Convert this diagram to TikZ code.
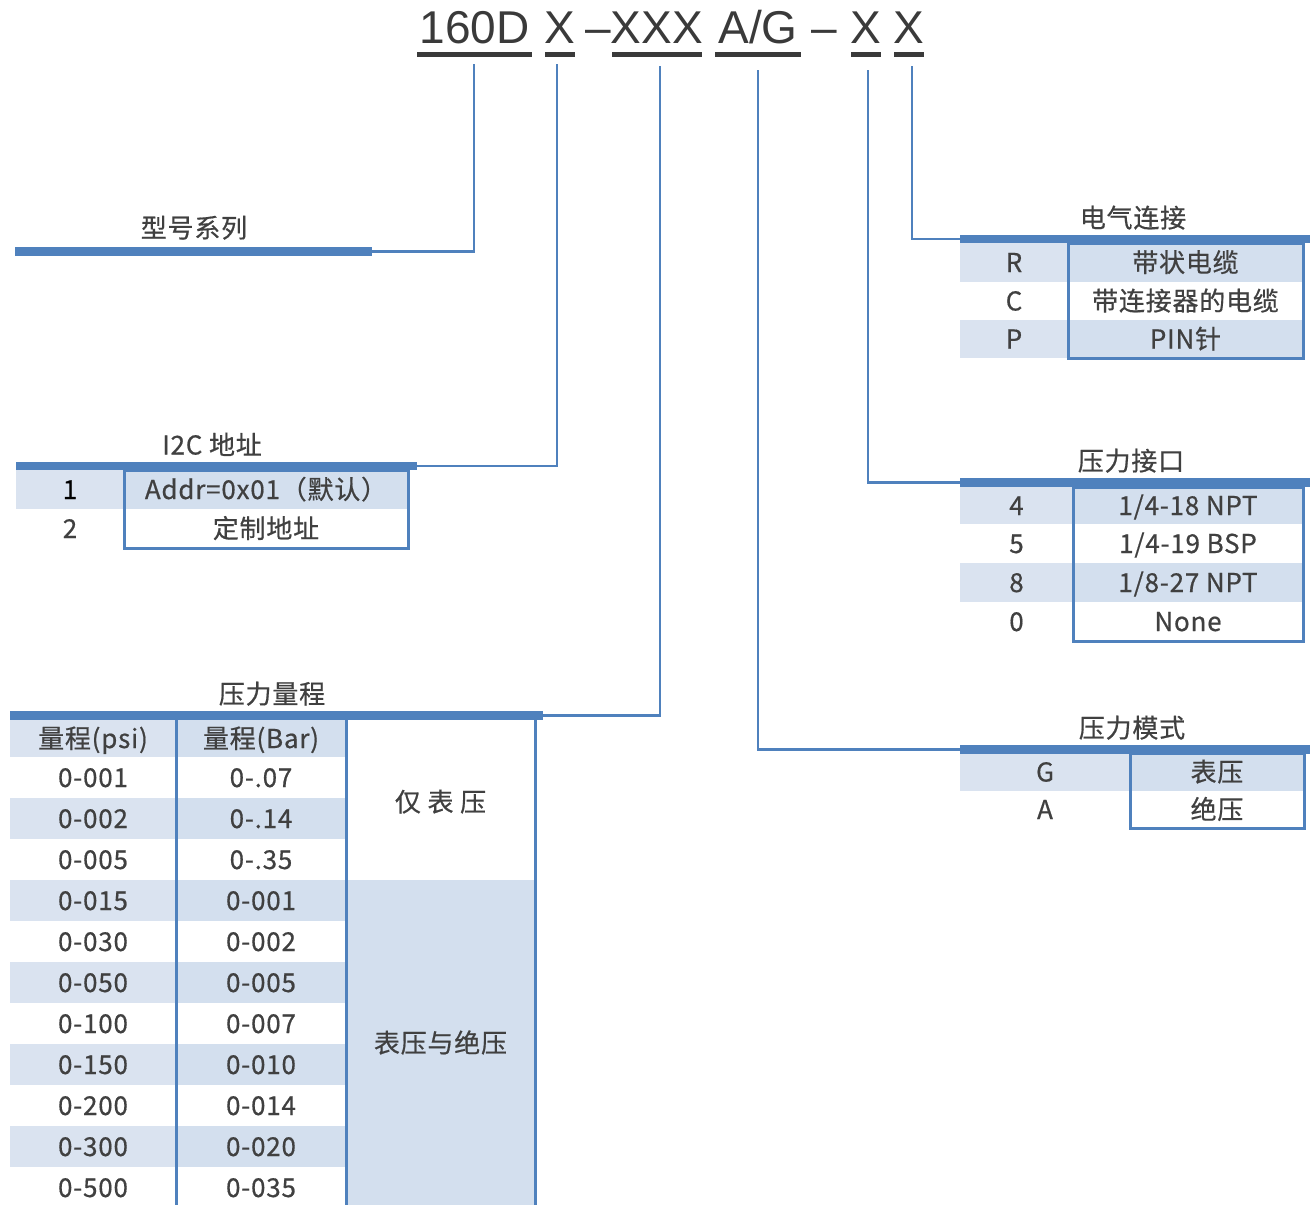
\documentclass[tikz,border=0pt]{standalone}
\usepackage{fontspec}
\setmainfont{Liberation Sans}
\newfontfamily\cjk[FakeBold=0.6,LetterSpace=3]{Noto Sans CJK SC}
\definecolor{lb}{HTML}{4F81BD}
\definecolor{tx}{HTML}{404040}
\definecolor{tt}{HTML}{3A3A3A}
\definecolor{shA}{HTML}{DAE3F0}
\definecolor{shB}{HTML}{D3DFEE}
\begin{document}
\begin{tikzpicture}[x=1pt,y=-1pt,
  conn/.style={draw=lb, line width=2.8pt},
  bar/.style={draw=lb, line width=8.5pt},
  frame/.style={draw=lb, line width=3pt},
  ttl/.style={font=\fontsize{46}{50}\selectfont, text=tt, anchor=base, inner sep=0},
  ul/.style={draw=tt, line width=5pt},
  lbl/.style={font=\cjk\fontsize{26}{30}\selectfont, text=tx, anchor=base, inner sep=0, yshift=-9.5pt},
]
\useasboundingbox (0,0) rectangle (1310,1205);

% ---------- title ----------
\node[ttl] (t1) at (474.5,43) {160D};
\node[ttl] (t2) at (560,43) {X};
\node[ttl] (t3) at (598,43) {–};
\node[ttl] (t4) at (657,43) {XXX};
\node[ttl] (t5) at (758,43) {A/G};
\node[ttl] (t6) at (824,43) {–};
\node[ttl] (t7) at (866,43) {X};
\node[ttl] (t8) at (909,43) {X};
\draw[ul] (417,54) -- (532,54);
\draw[ul] (545,54) -- (575,54);
\draw[ul] (612,54) -- (702,54);
\draw[ul] (715,54) -- (801,54);
\draw[ul] (851,54) -- (881,54);
\draw[ul] (894,54) -- (924,54);

% ---------- model series ----------
\node[lbl] (ms) at (194,228) {型号系列};
\coordinate (msL) at (15,251.7);
\coordinate (msR) at (372,251.7);
\draw[bar] (msL) -- (msR);
\coordinate (s1) at (474,64);
\draw[conn] (s1) |- (msR);

% ---------- I2C ----------
\fill[shA] (16,470) rectangle (124,509);
\fill[shB] (124,470) rectangle (408,509);
\node[lbl] (i2c) at (212,445) {I2C 地址};
\node[lbl,text=black] (i1a) at (70,489.5) {1};
\node[lbl] (i1b) at (266,489.5) {Addr=0x01（默认）};
\node[lbl] (i2a) at (70,528.5) {2};
\node[lbl] (i2b) at (266,528.5) {定制地址};
\draw[frame] (124,470) rectangle (408,548);
\coordinate (iL) at (16,466);
\coordinate (iR) at (417,466);
\draw[bar] (iL) -- (iR);
\coordinate (s2) at (557,64);
\draw[conn] (s2) |- (iR);

% ---------- pressure range ----------
\fill[shA] (10,720) rectangle (176,757);
\fill[shB] (176,720) rectangle (346,757);
\foreach \i in {1,3,5,7,9} {
  \fill[shA] (10,757+41*\i) rectangle (176,798+41*\i);
  \fill[shB] (176,757+41*\i) rectangle (346,798+41*\i);
}
\fill[shB] (346,880) rectangle (535,1210);
\node[lbl] (prT) at (272,694) {压力量程};
\node[lbl] (h1) at (93,738.5) {量程(psi)};
\node[lbl] (h2) at (261,738.5) {量程(Bar)};
\foreach \a/\b [count=\k from 0] in {0-001/0-.07,0-002/0-.14,0-005/0-.35,0-015/0-001,0-030/0-002,0-050/0-005,0-100/0-007,0-150/0-010,0-200/0-014,0-300/0-020,0-500/0-035} {
  \node[lbl] (pa\k) at (93,777.5+41*\k) {\a};
  \node[lbl] (pb\k) at (261,777.5+41*\k) {\b};
}
\node[lbl] (g1) at (440.5,802) {仅 表 压};
\node[lbl] (g2) at (440.5,1043) {表压与绝压};
\draw[frame] (176,720) -- (176,1210);
\draw[frame] (346,720) -- (346,1210);
\draw[frame] (535,720) -- (535,1210);
\coordinate (pL) at (10,715.5);
\coordinate (pR) at (543,715.5);
\draw[bar] (pL) -- (pR);
\coordinate (s3) at (660,66);
\draw[conn] (s3) |- (pR);

% ---------- electrical connection ----------
\fill[shA] (960,243) rectangle (1068,282);
\fill[shB] (1068,243) rectangle (1303,282);
\fill[shA] (960,320) rectangle (1068,358);
\fill[shB] (1068,320) rectangle (1303,358);
\node[lbl] (ecT) at (1133,218) {电气连接};
\node[lbl] (e1a) at (1014,262.5) {R};
\node[lbl] (e1b) at (1185.5,262.5) {带状电缆};
\node[lbl] (e2a) at (1014,301) {C};
\node[lbl] (e2b) at (1185.5,301) {带连接器的电缆};
\node[lbl] (e3a) at (1014,339) {P};
\node[lbl] (e3b) at (1185.5,339) {PIN针};
\draw[frame] (1068,243) rectangle (1303,358);
\coordinate (eL) at (960,239);
\coordinate (eR) at (1310,239);
\draw[bar] (eL) -- (eR);
\coordinate (s6) at (912,66);
\draw[conn] (s6) |- (eL);

% ---------- pressure port ----------
\fill[shA] (960,487) rectangle (1073,524);
\fill[shB] (1073,487) rectangle (1303,524);
\fill[shA] (960,563) rectangle (1073,602);
\fill[shB] (1073,563) rectangle (1303,602);
\node[lbl] (ppT) at (1131,461) {压力接口};
\node[lbl] (o1a) at (1016.5,505.5) {4};
\node[lbl] (o1b) at (1188,505.5) {1/4-18 NPT};
\node[lbl] (o2a) at (1016.5,543.5) {5};
\node[lbl] (o2b) at (1188,543.5) {1/4-19 BSP};
\node[lbl] (o3a) at (1016.5,582.5) {8};
\node[lbl] (o3b) at (1188,582.5) {1/8-27 NPT};
\node[lbl] (o4a) at (1016.5,621.5) {0};
\node[lbl] (o4b) at (1188,621.5) {None};
\draw[frame] (1073,487) rectangle (1303,641);
\coordinate (oL) at (960,482.5);
\coordinate (oR) at (1310,482.5);
\draw[bar] (oL) -- (oR);
\coordinate (s5) at (868,70);
\draw[conn] (s5) |- (oL);

% ---------- pressure mode ----------
\fill[shA] (960,753) rectangle (1130,791);
\fill[shB] (1130,753) rectangle (1304,791);
\node[lbl] (pmT) at (1132,728) {压力模式};
\node[lbl] (m1a) at (1045,772) {G};
\node[lbl] (m1b) at (1217,772) {表压};
\node[lbl] (m2a) at (1045,809.5) {A};
\node[lbl] (m2b) at (1217,809.5) {绝压};
\draw[frame] (1130,753) rectangle (1304,828);
\coordinate (mL) at (960,749.5);
\coordinate (mR) at (1310,749.5);
\draw[bar] (mL) -- (mR);
\coordinate (s4) at (758,70);
\draw[conn] (s4) |- (mL);
\end{tikzpicture}
\end{document}
